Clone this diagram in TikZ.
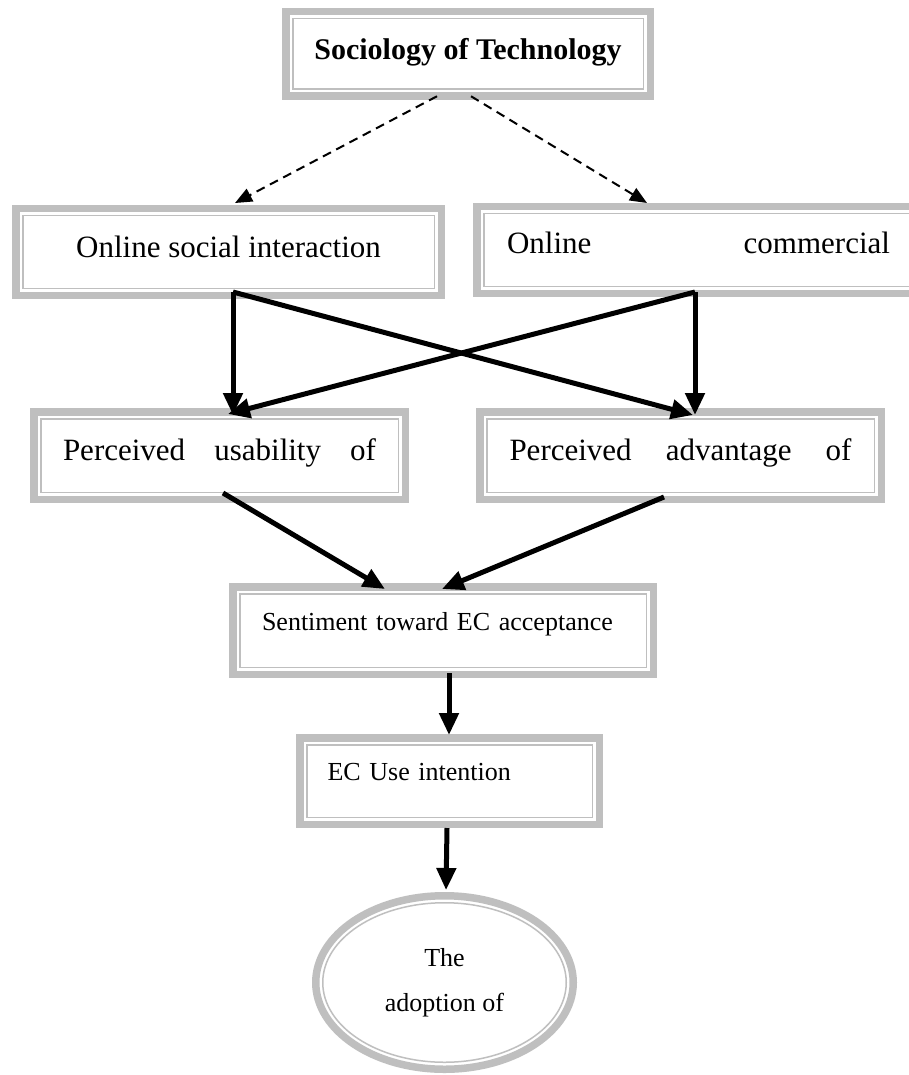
\documentclass[tikz,border=0pt]{standalone}
\usepackage{fontspec}
\setmainfont{Liberation Serif}
\usetikzlibrary{arrows.meta,shapes.geometric}
\definecolor{framegray}{RGB}{191,191,191}
\newcommand{\bigtext}{\fontsize{31}{37}\selectfont}
\newcommand{\smalltext}{\fontsize{26}{45}\selectfont}
\begin{document}
\begin{tikzpicture}
   [x=1pt, y=-1pt,
    frame/.style={draw=framegray, line width=7.5pt, inner sep=0pt, outer sep=0pt,
       path picture={\draw[framegray, line width=1.5pt]
          ([shift={(7pt,-7pt)}]path picture bounding box.north west) rectangle
          ([shift={(-7pt,7pt)}]path picture bounding box.south east);}},
    flow/.style={line width=5pt, -{Triangle[length=22pt, width=19pt]}},
    hint/.style={line width=2pt, dash pattern=on 9pt off 6pt, -{Triangle[length=17pt, width=14pt]}}]
   \clip (0,0) rectangle (909,1075);
   \fill[white] (0,0) rectangle (909,1075);

   \node[frame, minimum width=364.5pt, minimum height=84.5pt, text height=22pt, text depth=10pt,
      font=\fontsize{30}{36}\selectfont\bfseries] (sot) at (468,54) {Sociology of Technology};
   \node[frame, minimum width=425.5pt, minimum height=86.5pt, text height=22pt, text depth=12pt,
      font=\bigtext] (osi) at (228.5,252) {Online social interaction};
   \node[frame, minimum width=443.5pt, minimum height=86.5pt, text height=22pt, text depth=16pt,
      text width=383pt, align=left, font=\bigtext] (ocm) at (698.5,250) {Online\hfill commercial};

   \node[frame, minimum width=371.5pt, minimum height=87.5pt, text height=22pt, text depth=13pt,
      text width=313pt, align=left, font=\bigtext] (pus) at (219.5,455.5) {Perceived\hfill usability\hfill of};
   \node[frame, minimum width=401.5pt, minimum height=87.5pt, text height=22pt, text depth=13pt,
      text width=342pt, align=left, font=\bigtext] (pad) at (680.5,455.5) {Perceived\hfill advantage\hfill of};

   \node[frame, minimum width=420.5pt, minimum height=87.5pt, text height=18pt, text depth=19pt,
      text width=362pt, align=left, font=\smalltext] (sen) at (443,630.5) {Sentiment toward EC acceptance};
   \node[frame, minimum width=299.5pt, minimum height=86.5pt, text height=18pt, text depth=20pt,
      text width=244pt, align=left, font=\smalltext] (ecu) at (449.5,781) {EC Use intention};

   \node[draw=framegray, line width=7.5pt, ellipse, inner sep=0pt, outer sep=0pt,
      minimum width=257.5pt, minimum height=173.5pt, align=center, font=\smalltext,
      path picture={\draw[framegray, line width=1.5pt] (path picture bounding box.center)
         ellipse [x radius=121.75pt, y radius=79.75pt];}] (ado) at (444.5,982.5) {The\\adoption of};

   \draw[hint] ([shift={(-31,0)}]sot.south) -- ([shift={(6.5,-5.75)}]osi.north);
   \draw[hint] ([shift={(3,0)}]sot.south) -- ([shift={(-51.5,-3.75)}]ocm.north);

   \draw[flow] ([shift={(4.5,-3.25)}]osi.south) -- ([shift={(13.5,3.25)}]pus.north);
   \draw[flow] ([shift={(4.5,-3.25)}]osi.south) -- ([shift={(12.5,3.25)}]pad.north);
   \draw[flow] ([shift={(-3.5,-1.25)}]ocm.south) -- ([shift={(14.5,3.25)}]pad.north);
   \draw[flow] ([shift={(-3.5,-1.25)}]ocm.south) -- ([shift={(8.5,2.25)}]pus.north);

   \draw[flow] ([shift={(3.5,-6.25)}]pus.south) -- ([shift={(-58,2.25)}]sen.north);
   \draw[flow] ([shift={(-16.5,-2.25)}]pad.south) -- ([shift={(-1,2.25)}]sen.north);
   \draw[flow] ([shift={(6,-1.25)}]sen.south) -- ([shift={(-0.5,-2.75)}]ecu.north);
   \draw[flow] ([shift={(-2.5,3.75)}]ecu.south) -- ([shift={(1.5,-5.75)}]ado.north);
\end{tikzpicture}
\end{document}
